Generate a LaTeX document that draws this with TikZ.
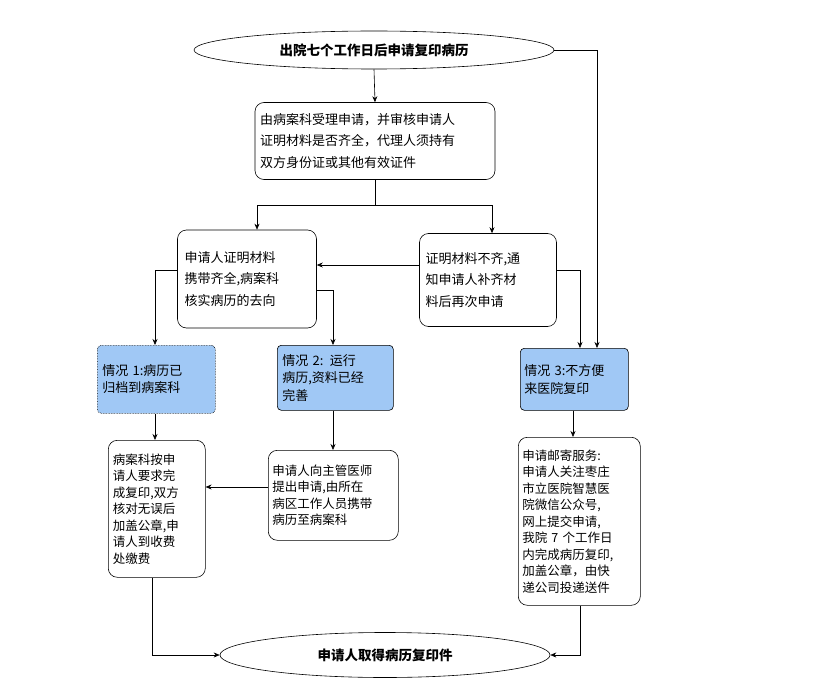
\documentclass[tikz,border=0pt]{standalone}
\usepackage{fontspec}
\newfontfamily\cjk{Noto Sans CJK SC}
\usetikzlibrary{shapes.geometric,arrows.meta}
\definecolor{bluefill}{RGB}{160,200,245}
\begin{document}
\begin{tikzpicture}[x=1pt,y=-1pt,
  box/.style={draw,rounded corners=9pt,font=\cjk\fontsize{12.5}{16.5}\selectfont,align=left,inner sep=4pt},
  wide/.style={font=\cjk\fontsize{13}{21.5}\selectfont},
  blue/.style={box,fill=bluefill,rounded corners=4pt,font=\cjk\fontsize{13}{17.5}\selectfont},
  ell/.style={draw,ellipse,font=\cjk\bfseries\fontsize{13.5}{16}\selectfont},
  arr/.style={-{Stealth[length=6pt,width=5pt]}},
  line width=0.6pt]
\useasboundingbox (0,0) rectangle (814,690);
\node[ell,minimum width=360,minimum height=38] (top) at (374,50) {出院七个工作日后申请复印病历};
\node[box,wide,minimum width=240,minimum height=77,text width=230] (b1) at (375,141) {由病案科受理申请，并审核申请人\\证明材料是否齐全，代理人须持有\\双方身份证或其他有效证件};
\node[box,wide,minimum width=139,minimum height=98,text width=125] (b2) at (247,279) {申请人证明材料\\携带齐全,病案科\\核实病历的去向};
\node[box,wide,minimum width=137,minimum height=93,text width=125] (b3) at (488,280) {证明材料不齐,通\\知申请人补齐材\\料后再次申请};
\node[blue,densely dotted,minimum width=118,minimum height=68,text width=108,anchor=north west] (b4) at (97,345) {情况 1:病历已\\归档到病案科\\[10pt]};
\node[blue,minimum width=116,minimum height=65,text width=106,anchor=north west] (b5) at (277,345) {情况 2: 运行\\病历,资料已经\\完善};
\node[blue,minimum width=108,minimum height=62,text width=100,anchor=north west] (b6) at (520,348) {情况 3:不方便\\来医院复印\\[6pt]};
\node[box,minimum width=97,minimum height=137,text width=88,anchor=north west] (b7) at (108,440) {病案科按申\\请人要求完\\成复印,双方\\核对无误后\\加盖公章,申\\请人到收费\\处缴费\\[4pt]};
\node[box,minimum width=130,minimum height=90,text width=122,anchor=north west] (b8) at (268,450) {申请人向主管医师\\提出申请,由所在\\病区工作人员携带\\病历至病案科\\[6pt]};
\node[box,minimum width=122,minimum height=168,text width=114,anchor=north west] (b9) at (518,437) {申请邮寄服务:\\申请人关注枣庄\\市立医院智慧医\\院微信公众号,\\网上提交申请,\\我院 7 个工作日\\内完成病历复印,\\加盖公章，由快\\递公司投递送件};
\node[ell,minimum width=330,minimum height=45] (bot) at (385,655) {申请人取得病历复印件};
\draw[arr] (top.south) -- (b1.north);
\draw (b1.south) -- (375,205);
\draw[arr] (257,205) -- (b2.north -| 257,0);
\draw[arr] (492,205) -- (b3.north -| 492,0);
\draw (257,205) -- (492,205);
\draw[arr] (b3.west |- 0,265) -- (b2.east |- 0,265);
\draw[arr] (b2.west |- 0,270) -| (b4.north -| 155,0);
\draw[arr] (b2.east |- 0,290) -| (b5.north -| 333,0);
\draw[arr] (b3.east |- 0,270) -| (b6.north -| 580,0);
\draw[arr] (top.east) -| (b6.north -| 597,0);
\draw[arr] (b4.south -| 155,0) -- (b7.north -| 155,0);
\draw[arr] (b5.south -| 333,0) -- (b8.north -| 333,0);
\draw[arr] (b8.west |- 0,487) -- (b7.east |- 0,487);
\draw[arr] (b6.south -| 573,0) -- (b9.north -| 573,0);
\draw[arr] (b7.south -| 152,0) |- (bot.west);
\draw[arr] (b9.south -| 580,0) |- (bot.east);
\end{tikzpicture}
\end{document}
